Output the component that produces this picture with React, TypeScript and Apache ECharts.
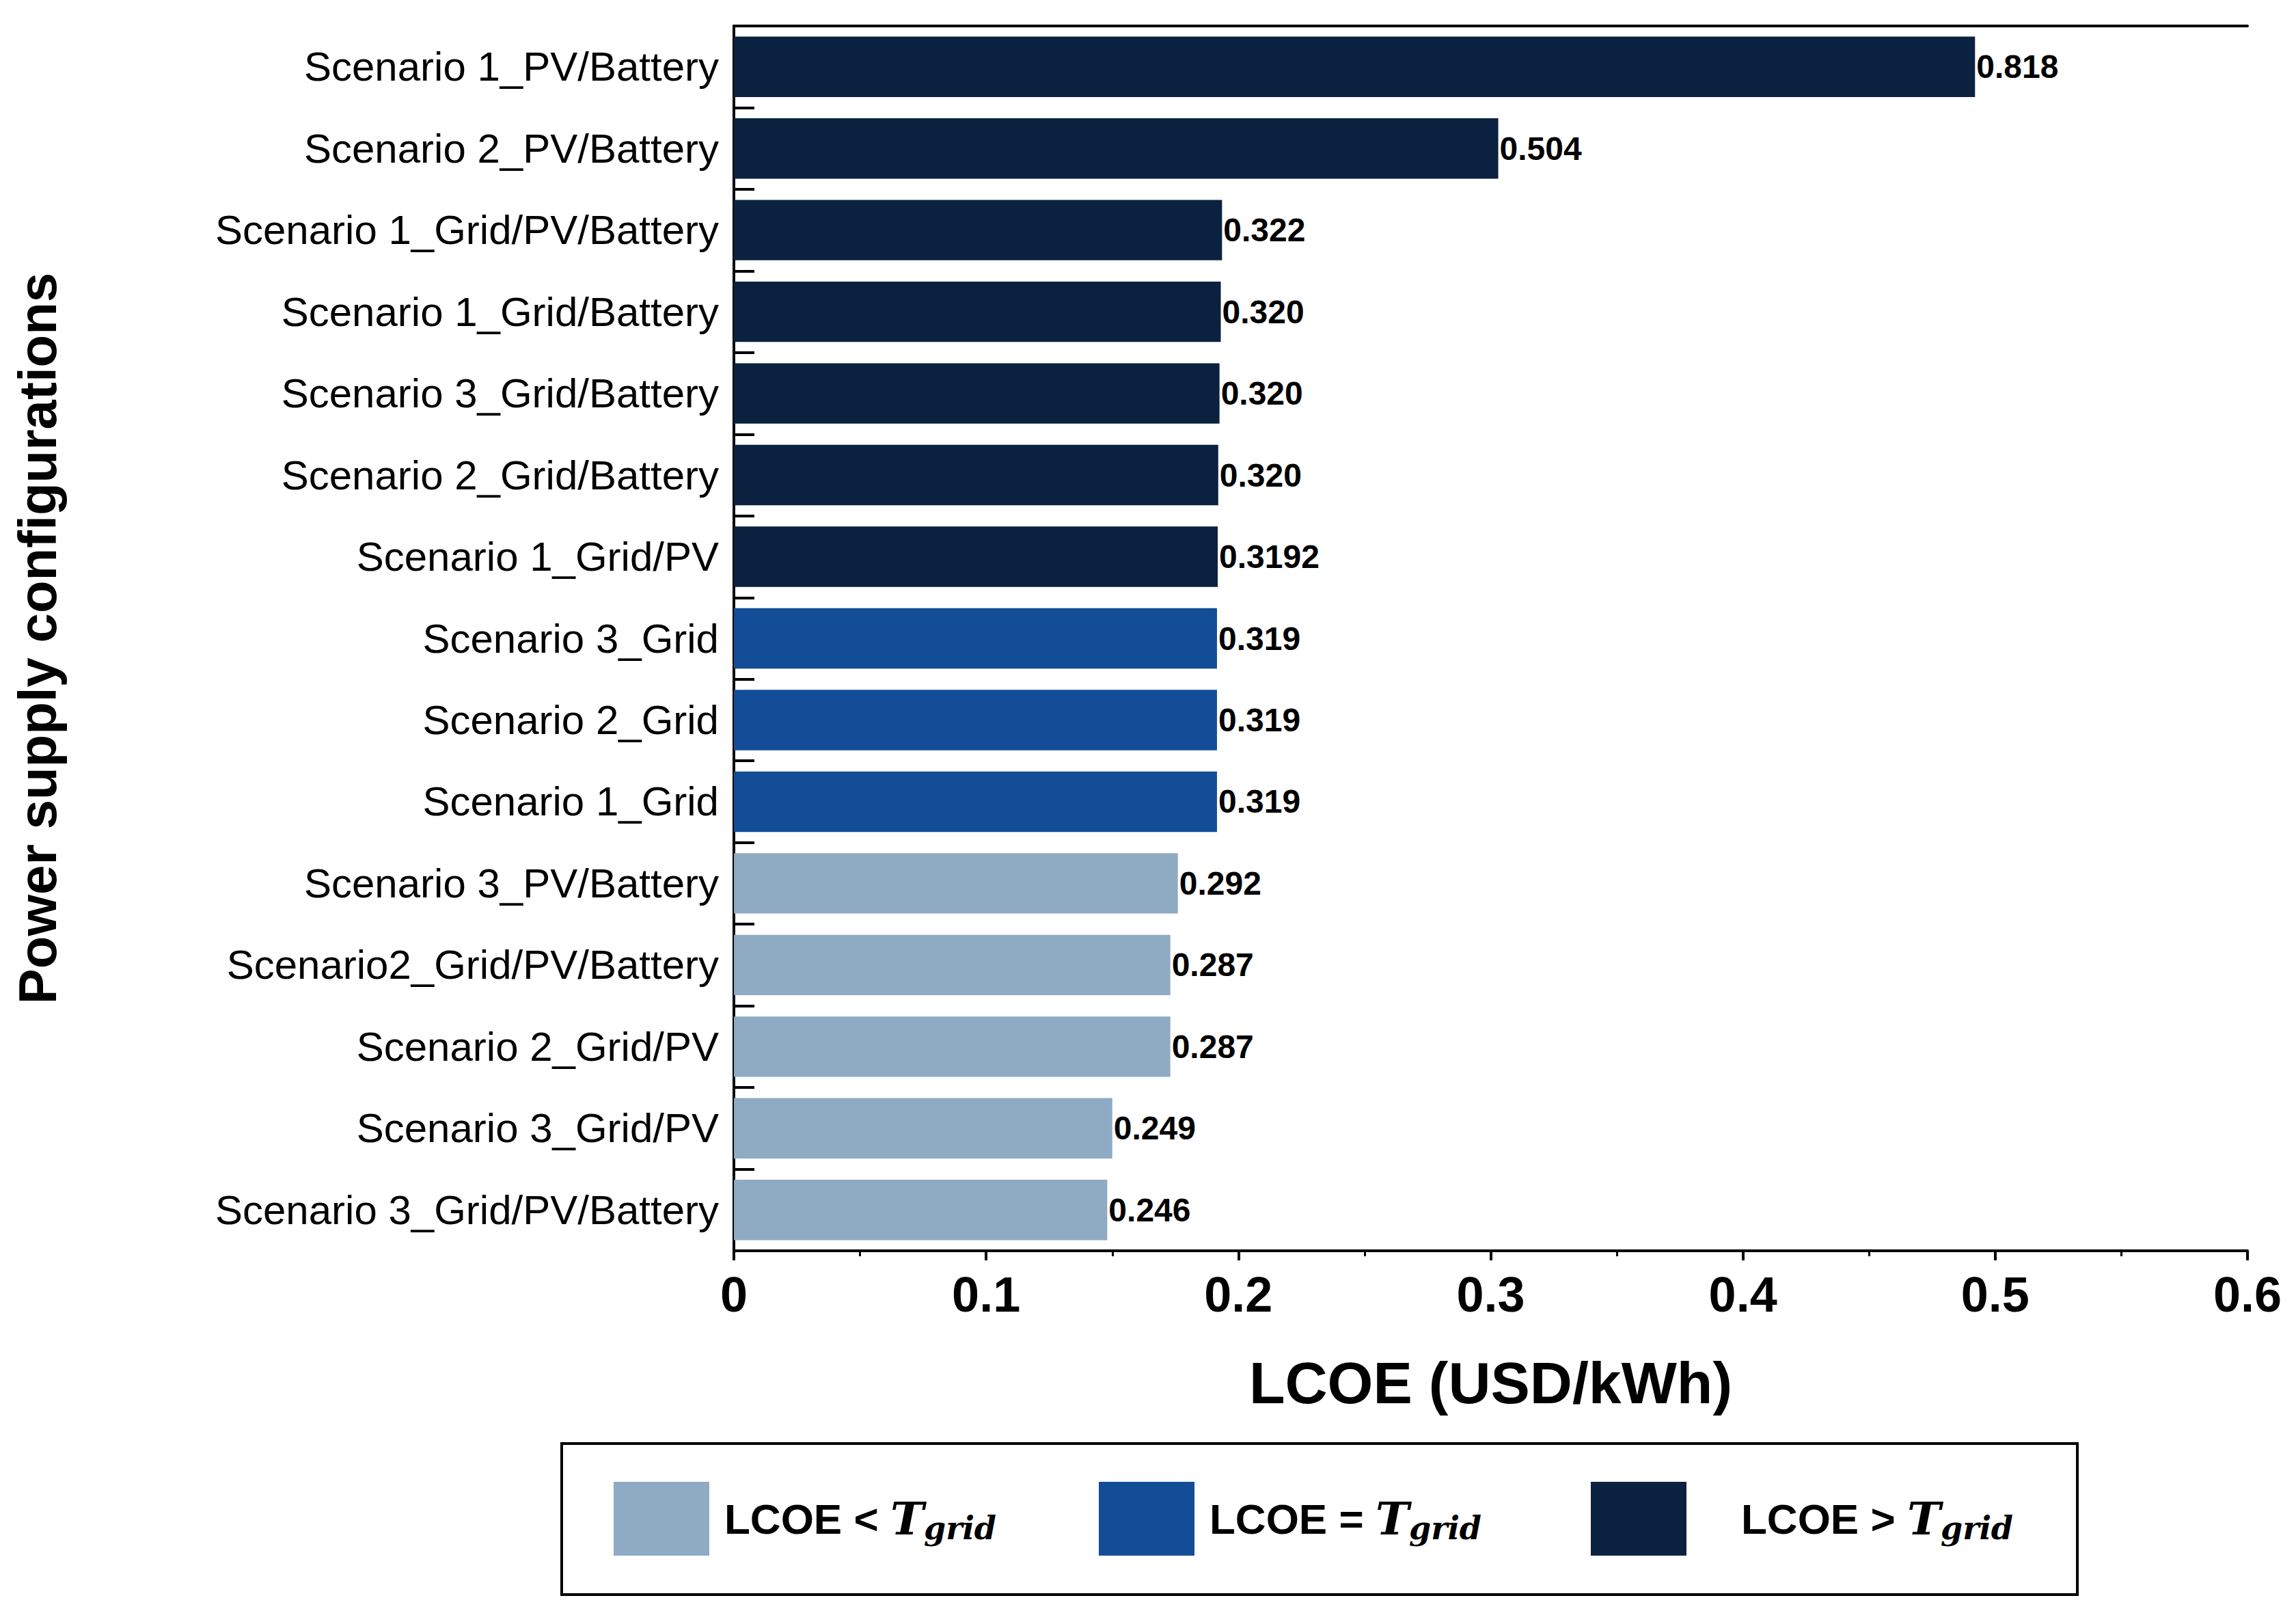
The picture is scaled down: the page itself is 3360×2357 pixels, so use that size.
import React, { useEffect, useRef } from "react";
import * as echarts from "echarts";

const categories = [
  "Scenario 1_PV/Battery",
  "Scenario 2_PV/Battery",
  "Scenario 1_Grid/PV/Battery",
  "Scenario 1_Grid/Battery",
  "Scenario 3_Grid/Battery",
  "Scenario 2_Grid/Battery",
  "Scenario 1_Grid/PV",
  "Scenario 3_Grid",
  "Scenario 2_Grid",
  "Scenario 1_Grid",
  "Scenario 3_PV/Battery",
  "Scenario2_Grid/PV/Battery",
  "Scenario 2_Grid/PV",
  "Scenario 3_Grid/PV",
  "Scenario 3_Grid/PV/Battery",
];
// bar lengths as drawn on the axis
const barValues = [0.492, 0.303, 0.1935, 0.193, 0.1925, 0.192, 0.1918, 0.1915, 0.1915, 0.1915, 0.176, 0.173, 0.173, 0.150, 0.148];
// labels printed at the bar ends
const valueLabels = ["0.818", "0.504", "0.322", "0.320", "0.320", "0.320", "0.3192", "0.319", "0.319", "0.319", "0.292", "0.287", "0.287", "0.249", "0.246"];
// 0 = below, 1 = equal, 2 = above T_grid
const classes = [2, 2, 2, 2, 2, 2, 2, 1, 1, 1, 0, 0, 0, 0, 0];
const colors = ["#8fabc4", "#134d97", "#0a2240"];
const legendOps = ["<", "=", ">"];

const font = "Liberation Sans, Arial, sans-serif";

export default function App() {
  const el = useRef<HTMLDivElement>(null);

  useEffect(() => {
    if (!el.current) return;
    const chart = echarts.init(el.current, null, { renderer: "svg" });
    const legendX = [890, 1600, 2320];
    chart.setOption({
      animation: false,
      backgroundColor: "#fff",
      textStyle: { fontFamily: font },
      grid: { left: 1063, right: 3360 - 3281, top: 30, bottom: 2357 - 1822 },
      xAxis: [
        {
          type: "value", min: 0, max: 0.6, interval: 0.1,
          axisLine: { show: true, onZero: false, lineStyle: { color: "#000", width: 4 } },
          axisTick: { show: true, length: 14, lineStyle: { color: "#000", width: 4 } },
          minorTick: { show: true, splitNumber: 2, length: 8, lineStyle: { color: "#000", width: 3 } },
          splitLine: { show: false },
          axisLabel: { color: "#000", fontSize: 72, fontWeight: "bold", margin: 28,
            formatter: (v: number) => (v === 0 ? "0" : String(+v.toFixed(1))) },
          name: "LCOE (USD/kWh)", nameLocation: "middle", nameGap: 150,
          nameTextStyle: { color: "#000", fontSize: 86, fontWeight: "bold" },
        },
        {
          type: "value", min: 0, max: 0.6, interval: 0.1, position: "top",
          axisLine: { show: true, lineStyle: { color: "#000", width: 4 } },
          axisTick: { show: false }, axisLabel: { show: false }, splitLine: { show: false },
        },
      ],
      yAxis: [
        {
          type: "category", data: categories, inverse: true,
          axisLine: { show: true, lineStyle: { color: "#000", width: 4 } },
          axisTick: { show: true, inside: true, length: 30, lineStyle: { color: "#000", width: 4 } },
          axisLabel: { color: "#000", fontSize: 60, margin: 22 },
          name: "Power supply configurations", nameLocation: "middle", nameGap: 980, nameRotate: 90,
          nameTextStyle: { color: "#000", fontSize: 78, fontWeight: "bold" },
        },
        {
          type: "category", data: categories, inverse: true, position: "right",
          axisLine: { show: true, lineStyle: { color: "#000", width: 4 } },
          axisTick: { show: false }, axisLabel: { show: false },
        },
      ],
      series: [
        {
          type: "bar",
          data: barValues.map((v, i) => ({ value: v, itemStyle: { color: colors[classes[i]] } })),
          barCategoryGap: "26%",
          label: {
            show: true, position: "right", distance: 2, color: "#000",
            fontSize: 48, fontWeight: "bold",
            formatter: (p: any) => valueLabels[p.dataIndex],
          },
        },
      ],
      graphic: [
        { type: "rect", shape: { x: 814, y: 2104, width: 2218, height: 221 },
          style: { fill: "#fff", stroke: "#000", lineWidth: 4 } },
        ...legendX.flatMap((x, i) => [
          { type: "rect", shape: { x, y: 2160, width: 140, height: 108 }, style: { fill: colors[i] } },
          {
            type: "text", x: x + (i === 2 ? 220 : 162), y: 2214,
            style: {
              text: `{a|LCOE ${legendOps[i]} }{t|T}{s|grid}`,
              verticalAlign: "middle",
              rich: {
                a: { fontSize: 62, fontWeight: "bold", fill: "#000", fontFamily: font },
                t: { fontSize: 66, fontWeight: "bold", fontStyle: "italic", fill: "#000", fontFamily: "DejaVu Serif" },
                s: { fontSize: 46, fontWeight: "bold", fontStyle: "italic", fill: "#000", fontFamily: "DejaVu Serif", padding: [28, 0, 0, 0] },
              },
            },
          },
        ]),
      ],
    });
    return () => chart.dispose();
  }, []);

  return <div ref={el} style={{ width: 3360, height: 2357 }} />;
}
